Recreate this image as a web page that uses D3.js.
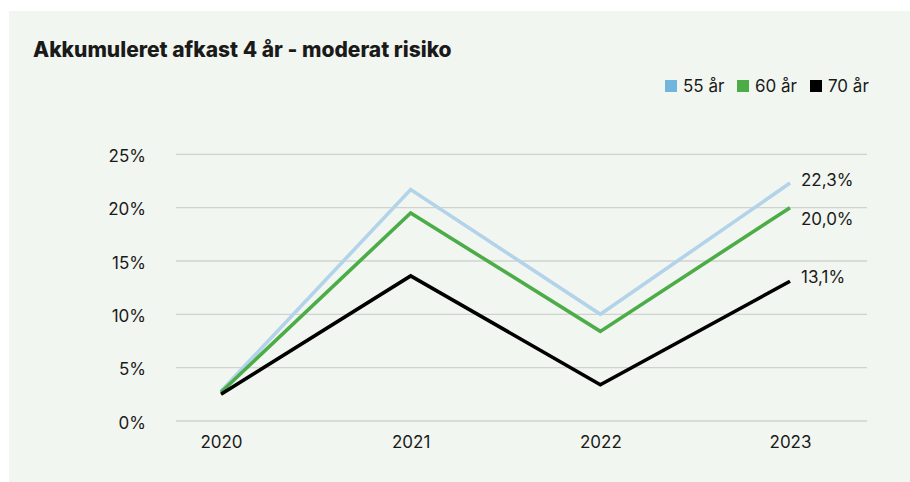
<!DOCTYPE html>
<html>
<head>
<meta charset="utf-8">
<script src="https://cdn.jsdelivr.net/npm/d3@7"></script>
<style>
  html, body { margin: 0; padding: 0; background: #fff; }
  svg { display: block; }
  text { font-family: Inter, "Liberation Sans", sans-serif; fill: #1a1a1a; }
</style>
</head>
<body>
<div id="chart"></div>
<script>
// data (percent)
const years = ['2020', '2021', '2022', '2023'];
const seriesNames = ['55 år', '60 år', '70 år'];
const values55 = [2.8, 21.7, 10.0, 22.3];
const values60 = [2.7, 19.5, 8.4, 20.0];
const values70 = [2.5, 13.6, 3.4, 13.1];
const yTicks = [0, 5, 10, 15, 20, 25];
const title = 'Akkumuleret afkast 4 år - moderat risiko';

const W = 910, H = 482;
const lineColors = ['#b3d3ea', '#4cad48', '#000000'];
const legendColors = ['#72b5dc', '#4cad48', '#000000'];
// endpoint label nudges, the middle one is pushed below to avoid overlap
const labelShift = [-3, 11, -4];

const series = [values55, values60, values70].map((v, i) => ({
  name: seriesNames[i],
  values: v.map((d, j) => ({year: years[j], value: d}))
}));

const daFormat = d3.formatLocale({decimal: ',', thousands: '.', grouping: [3], currency: ['', ' kr']});
const pct1 = daFormat.format('.1f');

const svg = d3.select('#chart').append('svg')
  .attr('width', W)
  .attr('height', H);

// background panel
svg.append('rect')
  .attr('x', 9).attr('y', 11)
  .attr('width', W - 9).attr('height', H - 11)
  .attr('fill', '#f2f6f0');

svg.append('text')
  .attr('x', 33).attr('y', 57)
  .attr('font-size', 21)
  .attr('font-weight', 800)
  .attr('letter-spacing', 0)
  .attr('fill', '#000')
  .text(title);

// scales
const gridLeft = 176, gridRight = 867;
const x = d3.scalePoint()
  .domain(years)
  .range([221, 790]);
const y = d3.scaleLinear()
  .domain([0, 25])
  .range([421, 154.3]);

// grid lines
svg.append('g')
  .selectAll('line')
  .data(yTicks)
  .join('line')
  .attr('x1', gridLeft).attr('x2', gridRight)
  .attr('y1', d => y(d)).attr('y2', d => y(d))
  .attr('stroke', '#cfd3cf')
  .attr('stroke-width', 1.3);

// y axis labels
const yAxis = svg.append('g')
  .attr('transform', 'translate(146,0)')
  .call(d3.axisLeft(y).tickValues(yTicks).tickSize(0).tickPadding(0).tickFormat(d => d + '%'));
yAxis.select('.domain').remove();
yAxis.selectAll('text')
  .attr('font-size', 17)
  .attr('font-family', 'Inter, "Liberation Sans", sans-serif')
  .attr('fill', '#1a1a1a')
  .attr('dy', '0.42em');

// x axis labels
const xAxis = svg.append('g')
  .attr('transform', 'translate(0,421)')
  .call(d3.axisBottom(x).tickSize(0).tickPadding(0));
xAxis.select('.domain').remove();
xAxis.selectAll('text')
  .attr('font-size', 17)
  .attr('font-family', 'Inter, "Liberation Sans", sans-serif')
  .attr('fill', '#1a1a1a')
  .attr('dy', 27);

// lines
const line = d3.line()
  .x(d => x(d.year))
  .y(d => y(d.value));

svg.append('g')
  .selectAll('path')
  .data(series)
  .join('path')
  .attr('d', d => line(d.values))
  .attr('fill', 'none')
  .attr('stroke', (d, i) => lineColors[i])
  .attr('stroke-width', 3.6)
  .attr('stroke-linejoin', 'miter');

// end labels
svg.append('g')
  .selectAll('text')
  .data(series)
  .join('text')
  .attr('x', d => x(d.values[d.values.length - 1].year) + 11)
  .attr('y', (d, i) => y(d.values[d.values.length - 1].value) + labelShift[i])
  .attr('dy', '0.36em')
  .attr('font-size', 17)
  .text(d => pct1(d.values[d.values.length - 1].value) + '%');

// legend
const legend = svg.append('g')
  .attr('transform', 'translate(665,80)');
const legendX = [0, 72, 145];
const items = legend.selectAll('g')
  .data(seriesNames)
  .join('g')
  .attr('transform', (d, i) => `translate(${legendX[i]},0)`);
items.append('rect')
  .attr('width', 12).attr('height', 12)
  .attr('fill', (d, i) => legendColors[i]);
items.append('text')
  .attr('x', 18).attr('y', 6)
  .attr('dy', '0.36em')
  .attr('font-size', 17)
  .text(d => d);
</script>
</body>
</html>
